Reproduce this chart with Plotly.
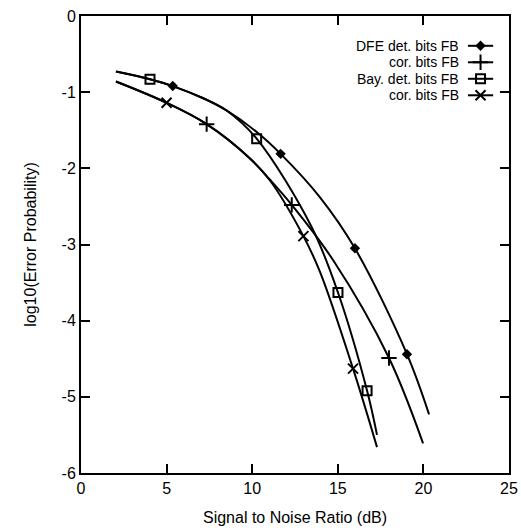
import plotly.graph_objects as go

# ---- data ----
dfe_det_x = [2.04, 4.03, 5.36, 7.14, 8.5, 10.30, 11.66, 13.96, 16.0, 19.04, 20.33]
dfe_det_y = [-0.73, -0.83, -0.92, -1.08, -1.24, -1.53, -1.81, -2.38, -3.05, -4.44, -5.23]
dfe_det_mx = [5.36, 11.66, 16.0, 19.04]
dfe_det_my = [-0.92, -1.81, -3.05, -4.44]

dfe_cor_x = [2.04, 5.0, 7.34, 9.87, 11.04, 12.31, 14.74, 17.99, 19.98]
dfe_cor_y = [-0.86, -1.14, -1.42, -1.87, -2.15, -2.48, -3.21, -4.49, -5.61]
dfe_cor_mx = [7.34, 12.31, 17.99]
dfe_cor_my = [-1.42, -2.48, -4.49]

bay_det_x = [2.04, 4.03, 5.36, 7.14, 8.5, 10.26, 13.47, 15.01, 16.71, 17.29]
bay_det_y = [-0.73, -0.83, -0.92, -1.08, -1.24, -1.61, -2.77, -3.63, -4.92, -5.50]
bay_det_mx = [4.03, 10.26, 15.01, 16.71]
bay_det_my = [-0.83, -1.61, -3.63, -4.92]

bay_cor_x = [2.04, 5.0, 7.34, 9.87, 11.04, 12.99, 13.96, 15.89, 17.29]
bay_cor_y = [-0.86, -1.14, -1.42, -1.87, -2.16, -2.89, -3.36, -4.63, -5.66]
bay_cor_mx = [5.0, 12.99, 15.89]
bay_cor_my = [-1.14, -2.89, -4.63]

legend_labels = ["DFE det. bits FB", "cor. bits FB", "Bay. det. bits FB", "cor. bits FB"]

x_ticks = [0, 5, 10, 15, 20, 25]
y_ticks = [0, -1, -2, -3, -4, -5, -6]

# ---- styling ----
FONT = "Liberation Sans, Arial, sans-serif"
BLACK = "black"

series = [
    (dfe_det_x, dfe_det_y, dfe_det_mx, dfe_det_my, dict(symbol="diamond", size=8, color=BLACK)),
    (dfe_cor_x, dfe_cor_y, dfe_cor_mx, dfe_cor_my,
     dict(symbol="cross-thin", size=11, color=BLACK, line=dict(color=BLACK, width=2))),
    (bay_det_x, bay_det_y, bay_det_mx, bay_det_my,
     dict(symbol="square-open", size=9, color=BLACK, line=dict(color=BLACK, width=2))),
    (bay_cor_x, bay_cor_y, bay_cor_mx, bay_cor_my,
     dict(symbol="x-thin", size=10, color=BLACK, line=dict(color=BLACK, width=2))),
]

fig = go.Figure()
for cx, cy, mx, my, mk in series:
    fig.add_trace(go.Scatter(x=cx, y=cy, mode="lines",
                             line=dict(color=BLACK, width=2, shape="spline", smoothing=1),
                             showlegend=False, hoverinfo="skip"))
    fig.add_trace(go.Scatter(x=mx, y=my, mode="markers", marker=mk, showlegend=False))

# manual legend (text right-aligned, key to the right) on an overlay axis in [0,1]
leg_rows = [0.9348, 0.8987, 0.8626, 0.8265]
key_x0, key_x1, text_x = 0.904, 0.963, 0.886
for (cx, cy, mx, my, mk), lab, ry in zip(series, legend_labels, leg_rows):
    fig.add_trace(go.Scatter(x=[key_x0, key_x1], y=[ry, ry], mode="lines",
                             line=dict(color=BLACK, width=2), xaxis="x2", yaxis="y2",
                             showlegend=False, hoverinfo="skip"))
    fig.add_trace(go.Scatter(x=[(key_x0 + key_x1) / 2], y=[ry], mode="markers",
                             marker=mk, xaxis="x2", yaxis="y2",
                             showlegend=False, hoverinfo="skip"))
    fig.add_annotation(x=text_x, y=ry, xref="paper", yref="paper", text=lab,
                       showarrow=False, xanchor="right", yanchor="middle",
                       borderpad=0, font=dict(family=FONT, size=14, color=BLACK))

axis_common = dict(showgrid=False, zeroline=False, showline=True, linecolor=BLACK,
                   linewidth=2, mirror="ticks", ticks="inside", ticklen=9,
                   tickwidth=1.5, tickcolor=BLACK, automargin=False,
                   tickfont=dict(family=FONT, size=16, color=BLACK))

fig.update_layout(
    width=521, height=530,
    margin=dict(l=81, r=12, t=16, b=57),
    paper_bgcolor="white", plot_bgcolor="white",
    font=dict(family=FONT, size=16, color=BLACK),
    xaxis=dict(range=[0, 25], tickvals=x_ticks, ticktext=[str(v) for v in x_ticks],
               title=dict(text="Signal to Noise Ratio (dB)", standoff=16,
                          font=dict(family=FONT, size=16, color=BLACK)),
               **axis_common),
    yaxis=dict(range=[-6, 0], tickvals=y_ticks, ticktext=[str(v) for v in y_ticks],
               title=dict(text="log10(Error Probability)", standoff=21,
                          font=dict(family=FONT, size=16, color=BLACK)),
               **axis_common),
    xaxis2=dict(overlaying="x", range=[0, 1], visible=False),
    yaxis2=dict(overlaying="y", range=[0, 1], visible=False),
    showlegend=False,
)

fig.write_html("out.html")
